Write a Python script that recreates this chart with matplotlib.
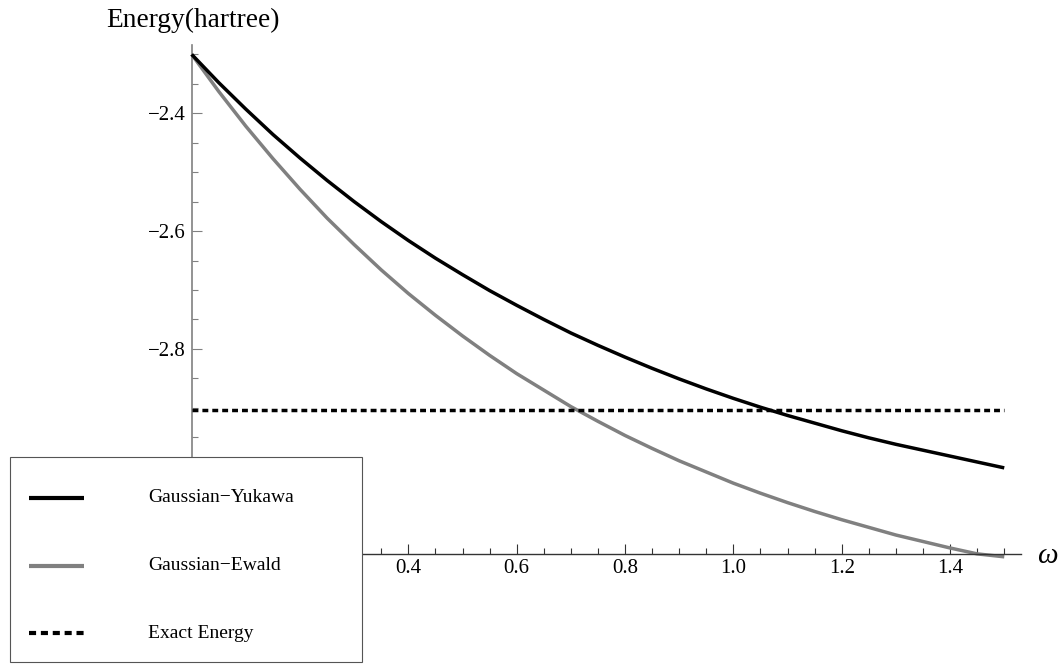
import numpy as np
import matplotlib.pyplot as plt
from matplotlib.patches import Rectangle
from matplotlib.lines import Line2D

# --- data ---
omega = [0.0, 0.05, 0.1, 0.15, 0.2, 0.25, 0.3, 0.35, 0.4, 0.45, 0.5, 0.55, 0.6, 0.65,
         0.7, 0.75, 0.8, 0.85, 0.9, 0.95, 1.0, 1.05, 1.1, 1.15, 1.2, 1.25, 1.3, 1.35,
         1.4, 1.45, 1.5]
yukawa = [-2.300, -2.348, -2.393, -2.436, -2.476, -2.514, -2.550, -2.584, -2.616,
          -2.646, -2.674, -2.701, -2.726, -2.750, -2.773, -2.794, -2.814, -2.833,
          -2.851, -2.868, -2.884, -2.899, -2.913, -2.926, -2.939, -2.951, -2.962,
          -2.972, -2.982, -2.992, -3.002]
ewald = [-2.300, -2.363, -2.422, -2.477, -2.529, -2.578, -2.623, -2.666, -2.706,
         -2.743, -2.778, -2.811, -2.842, -2.870, -2.898, -2.923, -2.947, -2.969,
         -2.990, -3.009, -3.028, -3.045, -3.061, -3.076, -3.090, -3.103, -3.116,
         -3.127, -3.138, -3.148, -3.153]
exact_energy = -2.9037
series_names = ["Gaussian\u2212Yukawa", "Gaussian\u2212Ewald", "Exact Energy"]
xticks_major = [0.2, 0.4, 0.6, 0.8, 1.0, 1.2, 1.4]
yticks_major = [-3.0, -2.8, -2.6, -2.4]

plt.rcParams['font.family'] = ['Liberation Serif', 'DejaVu Serif']

W, H = 1059, 672
fig = plt.figure(figsize=(W / 100, H / 100), dpi=100)
ax = fig.add_axes([0, 0, 1, 1])

# pixel mapping of the original: omega=0 at x=191.7, 541.7 px per unit
x0_px, sx = 191.7, 541.7
y_ref_px, sy = 113.3, 589.0  # -2.4 at y=113.3
ax.set_xlim(-x0_px / sx, (W - x0_px) / sx)
ax.set_ylim(-2.4 - (H - y_ref_px) / sy, -2.4 + y_ref_px / sy)

lw = 2.5
ax.plot(omega, yukawa, color='black', lw=lw, solid_capstyle='butt',
        solid_joinstyle='round', zorder=3)
ax.plot(omega, ewald, color='#808080', lw=lw, solid_capstyle='butt',
        solid_joinstyle='round', zorder=2)
ax.plot([omega[0], omega[-1]], [exact_energy, exact_energy], color='black', lw=lw,
        dashes=(1.7, 1.15), dash_capstyle='butt', zorder=3)

# axes crossing like Mathematica
x_axis_y = -3.148
for s in ['top', 'right']:
    ax.spines[s].set_visible(False)
ax.spines['left'].set_position(('data', 0))
ax.spines['bottom'].set_position(('data', x_axis_y))
ax.spines['left'].set_bounds(x_axis_y, -2.284)
ax.spines['bottom'].set_bounds(0, 1.53)
ax.spines['left'].set_color('#808080')
ax.spines['bottom'].set_color('#333333')
ax.spines['left'].set_linewidth(1.2)
ax.spines['bottom'].set_linewidth(1.0)

ax.set_xticks(xticks_major)
ax.set_xticks(np.arange(0.05, 1.51, 0.05), minor=True)
ax.set_yticks(yticks_major)
ax.set_yticks(np.arange(-3.1, -2.29, 0.05), minor=True)
ax.xaxis.set_major_formatter(plt.FuncFormatter(lambda v, p: f"{v:.1f}"))
ax.yaxis.set_major_formatter(plt.FuncFormatter(lambda v, p: f"{v:.1f}".replace('-', '\u2212')))
ax.tick_params(axis='x', which='major', direction='in', length=7.0, width=0.8,
               color='#333333', labelsize=15, pad=3.5)
ax.tick_params(axis='x', which='minor', direction='in', length=4.0, width=0.8, color='#333333')
ax.tick_params(axis='y', which='major', direction='in', length=7.0, width=0.8,
               color='#808080', labelsize=15, pad=4.5)
ax.tick_params(axis='y', which='minor', direction='in', length=4.5, width=0.8, color='#808080')
ax.set_facecolor('none')

fig.text(106 / W, 1 - 27 / H, "Energy(hartree)", fontsize=19.7, va='baseline', ha='left')
fig.text(1037 / W, 1 - 563 / H, "\u03c9", fontsize=21, style='italic', va='baseline', ha='left')

# legend box drawn by hand to sit over the axes like the original
box = Rectangle((10 / W, 1 - 662 / H), 351.7 / W, 205 / H, transform=fig.transFigure,
                facecolor='white', edgecolor='#555555', lw=0.8, zorder=10)
fig.add_artist(box)
rows = [498, 566, 633]
styles = [dict(color='black'), dict(color='#808080'),
          dict(color='black', dashes=(1.7, 1.15), dash_capstyle='butt')]
for name, y, st in zip(series_names, rows, styles):
    fig.add_artist(Line2D([29 / W, 84 / W], [1 - y / H, 1 - y / H], lw=lw + 0.5,
                          solid_capstyle='butt', transform=fig.transFigure, zorder=11, **st))
    fig.text(148 / W, 1 - y / H, name, fontsize=14, va='center', ha='left', zorder=11)

fig.savefig("out.png", dpi=100)
